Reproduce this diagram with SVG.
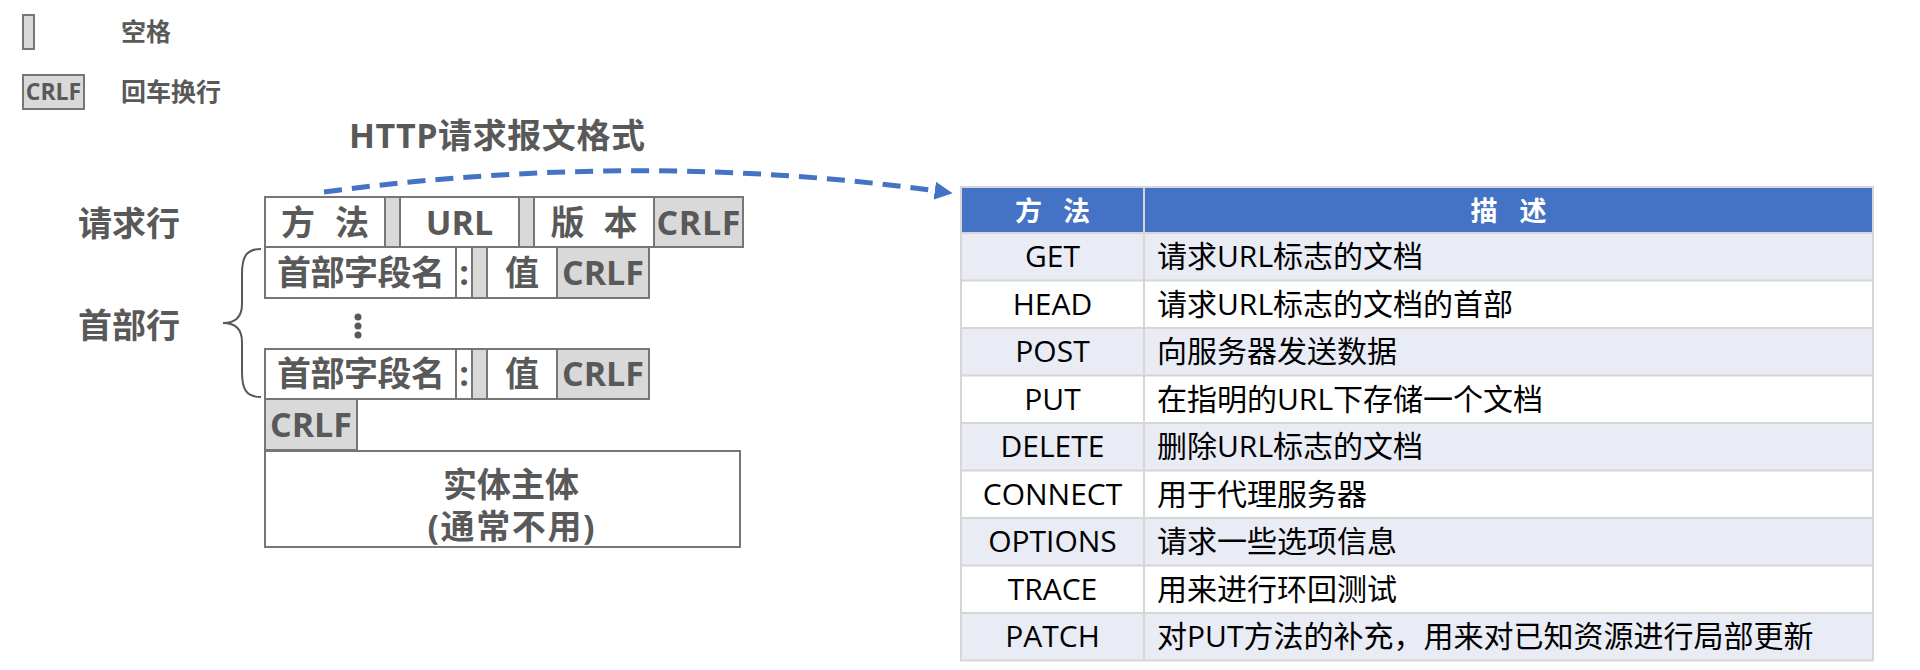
<svg xmlns="http://www.w3.org/2000/svg" width="1920" height="670" viewBox="0 0 1920 670">
  <defs>
    <style>
      .t { font-family: "Open Sans", "Noto Sans CJK SC", sans-serif; font-weight: 700; fill: #595959; }
      .c { text-anchor: middle; }
      .box { fill: #ffffff; stroke: #767676; stroke-width: 2; }
      .gray { fill: #D9D9D9; stroke: #767676; stroke-width: 2; }
      .th { font-family: "Open Sans", "Noto Sans CJK SC", sans-serif; font-weight: 700; fill: #ffffff; font-size: 27px; text-anchor: middle; }
      .td { font-family: "Open Sans", "Noto Sans CJK SC", sans-serif; font-weight: 400; fill: #000000; font-size: 30px; }
      .odd { fill: #E9EBF5; }
      .even { fill: #ffffff; }
      .grid { stroke: #D6D6D6; stroke-width: 2; fill: none; }
    </style>
    <marker id="arrow" markerUnits="userSpaceOnUse" markerWidth="18" markerHeight="18" viewBox="0 0 16 16" refX="2" refY="8" orient="auto">
      <path d="M0,0 L16,8 L0,16 z" fill="#4472C4"/>
    </marker>
  </defs>
  <rect width="1920" height="670" fill="#ffffff"/>

  <!-- legend -->
  <g id="legend">
    <rect class="gray" x="23" y="15" width="11" height="34"/>
    <text class="t" x="121" y="41" font-size="25">空格</text>
    <rect class="gray" x="23" y="75" width="61" height="34"/>
    <text class="t c" x="53.5" y="100" font-size="23">CRLF</text>
    <text class="t" x="121" y="101" font-size="25">回车换行</text>
  </g>

  <!-- title -->
  <g id="title">
    <text class="t" x="349" y="148" font-size="34" textLength="296">HTTP请求报文格式</text>
  </g>

  <!-- labels -->
  <g id="label-request-line">
    <text class="t" x="78" y="236" font-size="34">请求行</text>
  </g>
  <g id="label-header-line">
    <text class="t" x="78" y="338" font-size="34">首部行</text>
  </g>
  <g id="brace">
    <path d="M261,249 C246,249 242,257 242,274 L242,304 C242,317 236,323 223,323 C236,323 242,329 242,342 L242,372 C242,389 246,397 261,397" fill="none" stroke="#595959" stroke-width="2"/>
  </g>

  <!-- request line -->
  <g id="request-line">
    <rect class="box" x="265" y="197" width="120" height="50"/>
    <rect class="gray" x="385" y="197" width="15" height="50"/>
    <rect class="box" x="400" y="197" width="119" height="50"/>
    <rect class="gray" x="519" y="197" width="15" height="50"/>
    <rect class="box" x="534" y="197" width="120" height="50"/>
    <rect class="gray" x="654" y="197" width="89" height="50"/>
    <text class="t c" x="325" y="235" font-size="34" textLength="88">方 法</text>
    <text class="t c" x="459.5" y="235" font-size="34">URL</text>
    <text class="t c" x="594" y="235" font-size="34" textLength="87">版 本</text>
    <text class="t c" x="698.5" y="235" font-size="34" textLength="84">CRLF</text>
  </g>

  <!-- header line 1 -->
  <g id="header-line-1">
    <rect class="box" x="265" y="247" width="191" height="51"/>
    <rect class="box" x="456" y="247" width="16" height="51"/>
    <rect class="gray" x="472" y="247" width="15" height="51"/>
    <rect class="box" x="487" y="247" width="70" height="51"/>
    <rect class="gray" x="557" y="247" width="92" height="51"/>
    <text class="t c" x="361" y="285" font-size="34" textLength="168">首部字段名</text>
    <text class="t c" x="464" y="285" font-size="34">:</text>
    <text class="t c" x="522" y="285" font-size="34">值</text>
    <text class="t c" x="603" y="285" font-size="34" textLength="82">CRLF</text>
  </g>

  <!-- ellipsis -->
  <g id="ellipsis">
    <circle cx="358" cy="317" r="3.5" fill="#595959"/>
    <circle cx="358" cy="326" r="3.5" fill="#595959"/>
    <circle cx="358" cy="335" r="3.5" fill="#595959"/>
  </g>

  <!-- header line 2 -->
  <g id="header-line-2">
    <rect class="box" x="265" y="349" width="191" height="50"/>
    <rect class="box" x="456" y="349" width="16" height="50"/>
    <rect class="gray" x="472" y="349" width="15" height="50"/>
    <rect class="box" x="487" y="349" width="70" height="50"/>
    <rect class="gray" x="557" y="349" width="92" height="50"/>
    <text class="t c" x="361" y="386" font-size="34" textLength="168">首部字段名</text>
    <text class="t c" x="464" y="386" font-size="34">:</text>
    <text class="t c" x="522" y="386" font-size="34">值</text>
    <text class="t c" x="603" y="386" font-size="34" textLength="82">CRLF</text>
  </g>

  <!-- blank line -->
  <g id="blank-line">
    <rect class="gray" x="265" y="399" width="92" height="51"/>
    <text class="t c" x="311" y="437" font-size="34" textLength="82">CRLF</text>
  </g>

  <!-- entity body -->
  <g id="entity-body">
    <rect class="box" x="265" y="451" width="475" height="96"/>
    <text class="t c" x="511" y="497" font-size="34">实体主体</text>
    <text class="t c" x="511" y="539" font-size="34" textLength="167">(通常不用)</text>
  </g>

  <!-- connectors -->
  <g id="connectors">
    <path d="M324,192 Q640,150 937,191" fill="none" stroke="#4472C4" stroke-width="5" stroke-dasharray="18 10" marker-end="url(#arrow)"/>
  </g>

  <!-- methods table -->
  <g id="methods-table">
    <rect x="961" y="187" width="912" height="46" fill="#4472C4"/>
    <rect class="odd" x="961" y="233" width="912" height="47.5"/>
    <rect class="even" x="961" y="280.5" width="912" height="47.5"/>
    <rect class="odd" x="961" y="328" width="912" height="47.5"/>
    <rect class="even" x="961" y="375.5" width="912" height="47.5"/>
    <rect class="odd" x="961" y="423" width="912" height="47.5"/>
    <rect class="even" x="961" y="470.5" width="912" height="47.5"/>
    <rect class="odd" x="961" y="518" width="912" height="47.5"/>
    <rect class="even" x="961" y="565.5" width="912" height="47.5"/>
    <rect class="odd" x="961" y="613" width="912" height="47.5"/>
    <path class="grid" d="M961,233 H1873 M961,280.5 H1873 M961,328 H1873 M961,375.5 H1873 M961,423 H1873 M961,470.5 H1873 M961,518 H1873 M961,565.5 H1873 M961,613 H1873 M1144,187 V660.5"/>
    <rect class="grid" x="961" y="187" width="912" height="473.5"/>

    <text class="th" x="1052.5" y="221" textLength="75">方 法</text>
    <text class="th" x="1508.5" y="221" textLength="76">描 述</text>

    <g class="td">
      <text class="c" x="1052.5" y="267">GET</text>
      <text x="1157" y="267">请求URL标志的文档</text>
      <text class="c" x="1052.5" y="314.5">HEAD</text>
      <text x="1157" y="314.5">请求URL标志的文档的首部</text>
      <text class="c" x="1052.5" y="362">POST</text>
      <text x="1157" y="362">向服务器发送数据</text>
      <text class="c" x="1052.5" y="409.5">PUT</text>
      <text x="1157" y="409.5">在指明的URL下存储一个文档</text>
      <text class="c" x="1052.5" y="457">DELETE</text>
      <text x="1157" y="457">删除URL标志的文档</text>
      <text class="c" x="1052.5" y="504.5">CONNECT</text>
      <text x="1157" y="504.5">用于代理服务器</text>
      <text class="c" x="1052.5" y="552">OPTIONS</text>
      <text x="1157" y="552">请求一些选项信息</text>
      <text class="c" x="1052.5" y="599.5">TRACE</text>
      <text x="1157" y="599.5">用来进行环回测试</text>
      <text class="c" x="1052.5" y="647">PATCH</text>
      <text x="1157" y="647">对PUT方法的补充，用来对已知资源进行局部更新</text>
    </g>
  </g>
</svg>
